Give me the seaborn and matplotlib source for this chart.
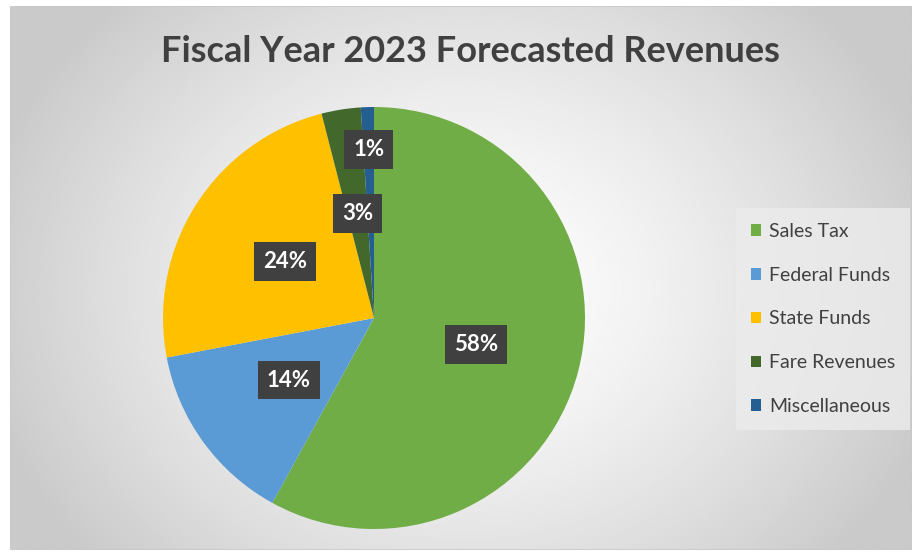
import numpy as np
import matplotlib
matplotlib.use("Agg")
import matplotlib.pyplot as plt
import seaborn as sns
from matplotlib.patches import Rectangle

categories = ["Sales Tax", "Federal Funds", "State Funds", "Fare Revenues", "Miscellaneous"]
values = [58, 14, 24, 3, 1]
colors = ["#70AD47", "#5B9BD5", "#FFC000", "#43682B", "#255E91"]
title = "Fiscal Year 2023 Forecasted Revenues"

sns.set_theme(style="white")
plt.rcParams['font.family'] = ['Lato', 'DejaVu Sans']

W, H = 914, 554
fig = plt.figure(figsize=(W / 100, H / 100), dpi=100)
fig.patch.set_facecolor("white")

# background panel with radial gradient
bx0, by0, bx1, by1 = 10, 4, 912, 548  # pixels (y from bottom)
bg = fig.add_axes([bx0 / W, by0 / H, (bx1 - bx0) / W, (by1 - by0) / H])
ny, nx = 300, 500
yy, xx = np.mgrid[0:ny, 0:nx]
cx, cy = nx * 0.5, ny * 0.52
d = np.sqrt(((xx - cx) / (nx * 0.55)) ** 2 + ((yy - cy) / (ny * 0.75)) ** 2)
d = np.clip(d, 0, 1)
grad = 1.0 - 0.21 * d ** 1.4
bg.imshow(grad, cmap="gray", vmin=0, vmax=1, aspect="auto", extent=[0, 1, 0, 1], interpolation="bilinear")
bg.set_xlim(0, 1)
bg.set_ylim(0, 1)
bg.axis("off")
bg.add_patch(Rectangle((0, 0), 1, 1, transform=bg.transAxes, fill=False, ec="#c8c8c8", lw=1.2))

# pie
cxp, cyp, r = 374, 554 - 318, 211
ax = fig.add_axes([(cxp - r) / W, (cyp - r) / H, 2 * r / W, 2 * r / H])
ax.set_facecolor("none")
wedges, texts, autotexts = ax.pie(
    values, colors=colors, startangle=90, counterclock=False,
    autopct=lambda p: f"{p:.0f}%", pctdistance=0.5,
    wedgeprops=dict(linewidth=0),
    textprops=dict(color="white", fontsize=16, fontweight="bold"),
)
ax.set_xlim(-1, 1)
ax.set_ylim(-1, 1)
ax.set_aspect("auto")
for w, t in zip(wedges, autotexts):
    t.set_bbox(dict(boxstyle="square,pad=0.4", fc="#404040", ec="none"))
# small slice label pushed outward
w = wedges[-1]
ang = np.deg2rad((w.theta1 + w.theta2) / 2)
autotexts[-1].set_position((0.8 * np.cos(ang), 0.8 * np.sin(ang)))

fig.text(470 / W, 1 - 52 / H, title, ha="center", va="center",
         fontsize=26, fontweight="bold", color="#404040")

# legend
leg = fig.legend(wedges, categories, loc="center left",
                 bbox_to_anchor=(736 / W, 1 - 319 / H),
                 frameon=True, fontsize=14, labelcolor="#404040",
                 handlelength=0.55, handleheight=0.55, handletextpad=0.4,
                 labelspacing=1.38, borderpad=0.75, borderaxespad=0)
leg.get_frame().set_facecolor("#ececec")
leg.get_frame().set_edgecolor("none")
leg.get_frame().set_alpha(0.8)
leg.get_frame().set_boxstyle("square", pad=0)

fig.savefig("out.png", dpi=100)
